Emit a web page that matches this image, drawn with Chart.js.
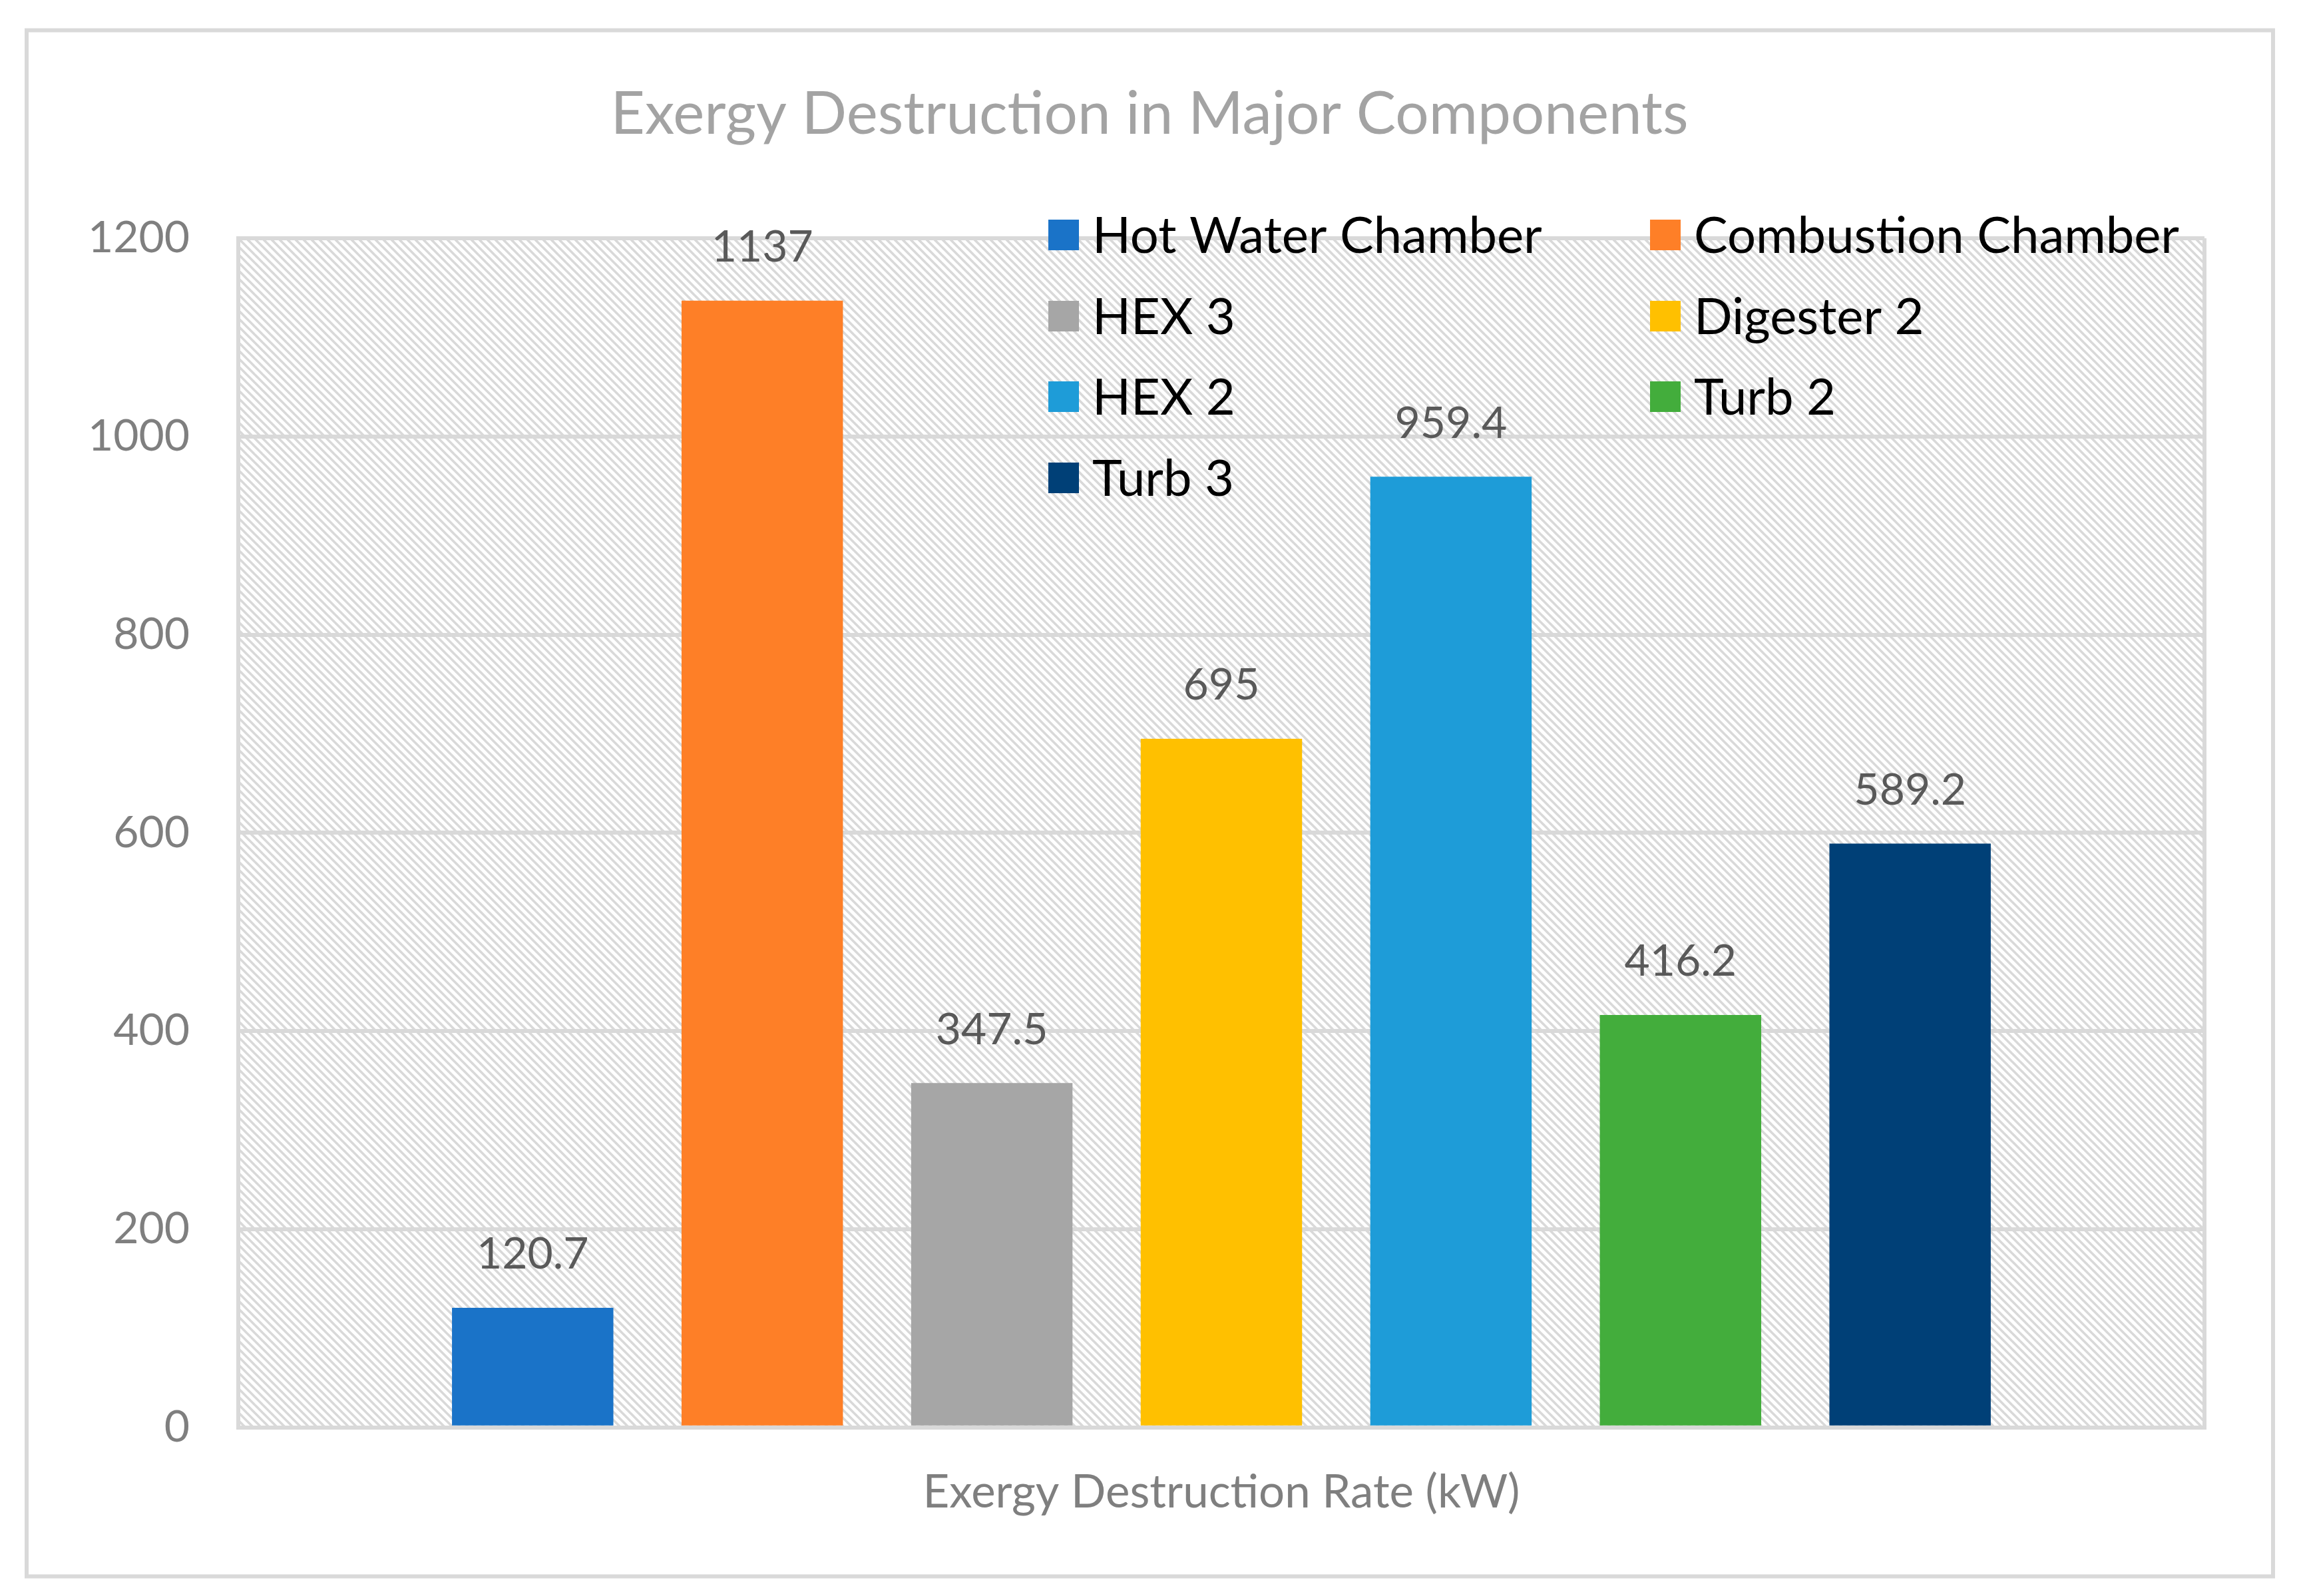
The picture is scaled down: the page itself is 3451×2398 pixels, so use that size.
<!DOCTYPE html>
<html>
<head>
<meta charset="utf-8">
<script src="https://cdn.jsdelivr.net/npm/chart.js@4.4.1/dist/chart.umd.min.js"></script>
<style>
  html, body { margin: 0; padding: 0; background: #ffffff; }
  #wrap { width: 3451px; height: 2398px; position: relative; }
</style>
</head>
<body>
<div id="wrap"><canvas id="c"></canvas></div>
<script>
// ---- Data ----
const categories = [''];
const seriesNames = ['Hot Water Chamber', 'Combustion Chamber', 'HEX 3', 'Digester 2', 'HEX 2', 'Turb 2', 'Turb 3'];
const seriesValues = [120.7, 1137, 347.5, 695, 959.4, 416.2, 589.2];
const seriesColors = ['#1A73C8', '#FE7F27', '#A6A6A6', '#FFC000', '#1E9CD8', '#43AD3C', '#004077'];
const yTicks = [0, 200, 400, 600, 800, 1000, 1200];
const chartTitle = 'Exergy Destruction in Major Components';
const xAxisTitle = 'Exergy Destruction Rate (kW)';

const FONT = "Lato, 'Open Sans', sans-serif";
const GRID = '#d9d9d9';

// hatch pattern
function makePattern(ctx) {
  const s = 12;
  const pc = document.createElement('canvas');
  pc.width = s; pc.height = s;
  const p = pc.getContext('2d');
  p.fillStyle = '#ffffff';
  p.fillRect(0, 0, s, s);
  p.strokeStyle = GRID;
  p.lineWidth = 3.6;
  for (let k = -1; k <= 1; k++) {
    p.beginPath();
    p.moveTo(k * s - 2, -2);
    p.lineTo(k * s + s + 2, s + 2);
    p.stroke();
  }
  return ctx.createPattern(pc, 'repeat');
}

const bgPlugin = {
  id: 'bgPlugin',
  beforeDraw(chart) {
    const ctx = chart.ctx;
    const a = chart.chartArea;
    ctx.save();
    ctx.fillStyle = '#ffffff';
    ctx.fillRect(0, 0, chart.width, chart.height);
    ctx.strokeStyle = GRID;
    ctx.lineWidth = 6;
    ctx.strokeRect(40, 45.5, 3375, 2323);
    ctx.fillStyle = makePattern(ctx);
    ctx.fillRect(a.left, a.top, a.right - a.left, a.bottom - a.top);
    // chart title, centred on the whole picture
    ctx.font = '89px ' + FONT;
    ctx.fillStyle = '#a3a3a3';
    ctx.textAlign = 'center';
    ctx.textBaseline = 'middle';
    ctx.fillText(chartTitle, 1727, 172);
    ctx.restore();
  }
};

const labelPlugin = {
  id: 'labelPlugin',
  afterDatasetsDraw(chart) {
    const ctx = chart.ctx;
    ctx.save();
    ctx.font = '66px ' + FONT;
    ctx.fillStyle = '#595959';
    ctx.textAlign = 'center';
    ctx.textBaseline = 'middle';
    chart.data.datasets.forEach((ds, i) => {
      const meta = chart.getDatasetMeta(i);
      meta.data.forEach((el, j) => {
        ctx.fillText(String(ds.data[j]), el.x, el.y - 80);
      });
    });
    ctx.restore();
  }
};

const legendPlugin = {
  id: 'customLegend',
  afterDraw(chart) {
    const ctx = chart.ctx;
    const colX = [1575, 2479];
    const rowY = [353, 475, 596, 718];
    ctx.save();
    ctx.font = '76px ' + FONT;
    ctx.textAlign = 'left';
    ctx.textBaseline = 'middle';
    chart.data.datasets.forEach((ds, i) => {
      const x = colX[i % 2];
      const y = rowY[Math.floor(i / 2)];
      ctx.fillStyle = ds.backgroundColor;
      ctx.fillRect(x, y - 23, 46, 46);
      ctx.fillStyle = '#000000';
      ctx.fillText(ds.label, x + 66, y + 2);
    });
    ctx.restore();
  }
};

const datasets = seriesNames.map((name, i) => ({
  label: name,
  data: [seriesValues[i]],
  backgroundColor: seriesColors[i],
  borderWidth: 0,
  categoryPercentage: 0.8173,
  barPercentage: 0.703
}));

new Chart(document.getElementById('c'), {
  type: 'bar',
  data: { labels: categories, datasets: datasets },
  plugins: [bgPlugin, labelPlugin, legendPlugin],
  options: {
    responsive: true,
    maintainAspectRatio: false,
    animation: false,
    layout: { padding: { left: 0, right: 139, top: 358, bottom: 0 } },
    plugins: {
      legend: { display: false },
      tooltip: { enabled: false },
      title: { display: false }
    },
    scales: {
      x: {
        grid: { display: true, color: GRID, lineWidth: 6, drawTicks: false, offset: true },
        border: { display: true, color: GRID, width: 6 },
        ticks: { display: false },
        title: {
          display: true,
          text: xAxisTitle,
          color: '#7f7f7f',
          font: { family: FONT, size: 69, weight: 'normal', lineHeight: 1.2 },
          padding: { top: 56.6, bottom: 113.8 }
        }
      },
      y: {
        min: 0,
        max: 1200,
        afterBuildTicks(scale) { scale.ticks = yTicks.map(v => ({ value: v })); },
        afterFit(scale) { scale.width = 358; },
        grid: { color: GRID, lineWidth: 6, drawTicks: false },
        border: { display: true, color: GRID, width: 6 },
        ticks: {
          color: '#7f7f7f',
          padding: 73,
          font: { family: FONT, size: 66 },
          callback: (v) => String(v)
        }
      }
    }
  }
});
</script>
</body>
</html>
